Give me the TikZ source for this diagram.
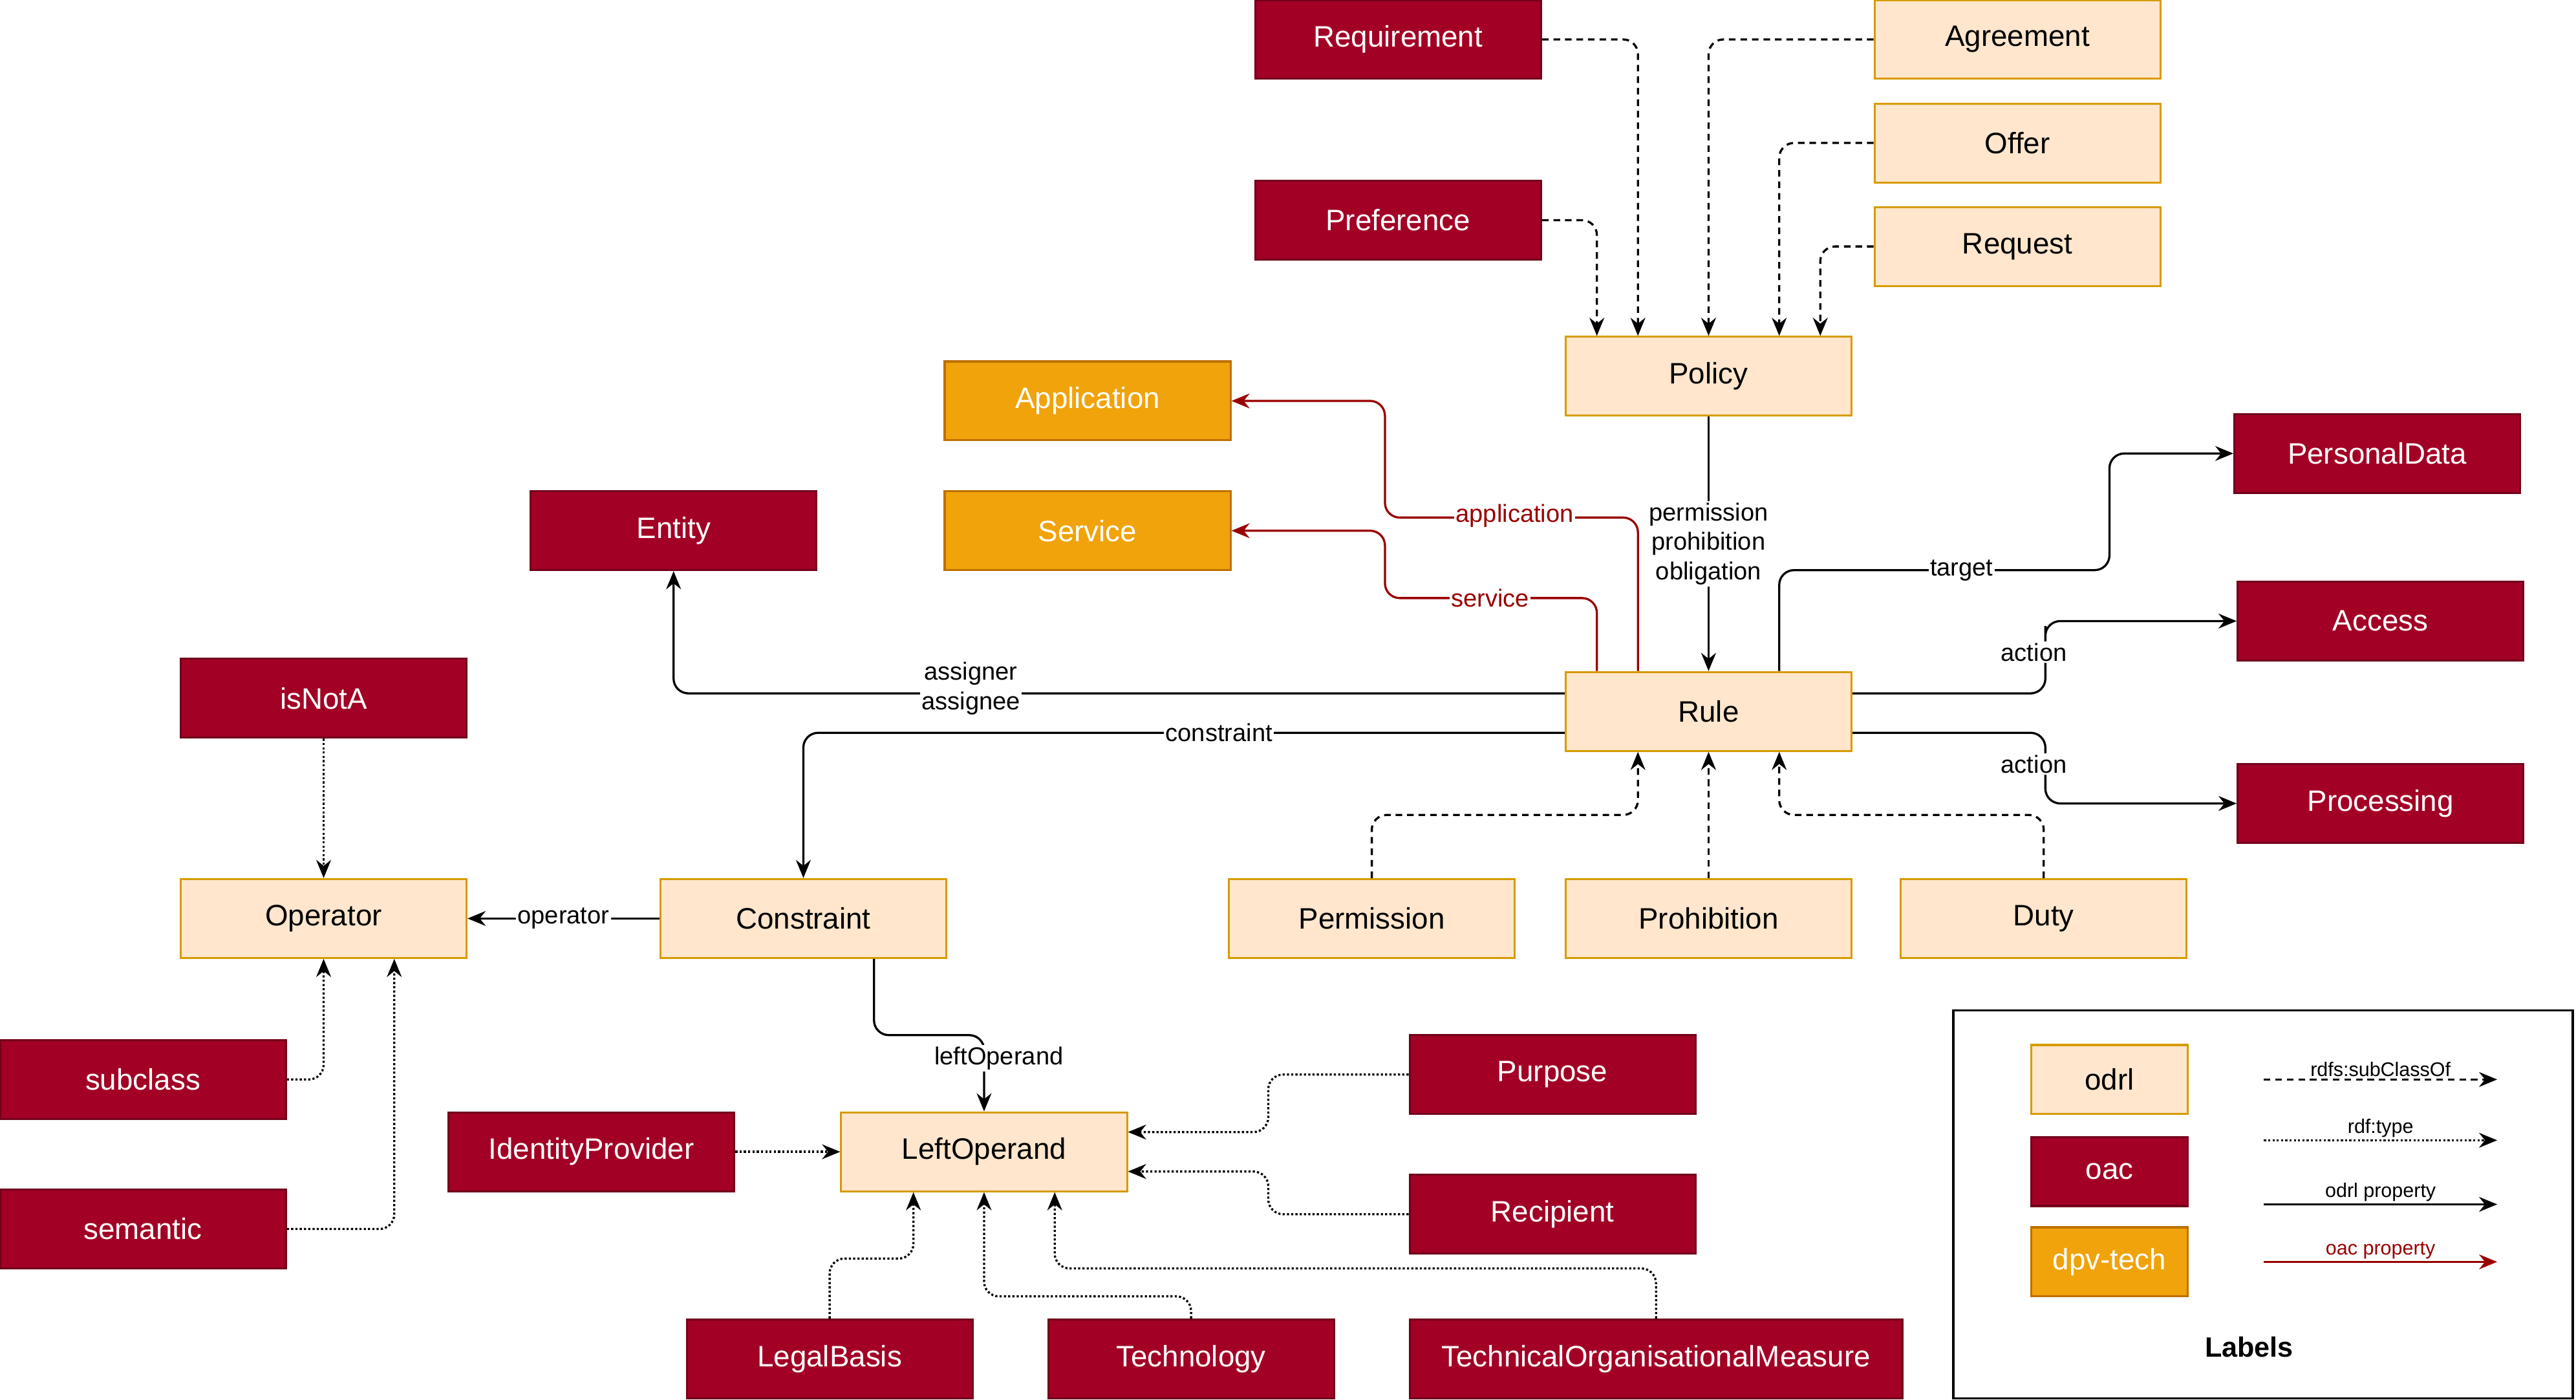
\documentclass[tikz,border=0pt]{standalone}
\usepackage{fontspec}
\setmainfont{Liberation Sans}
\usetikzlibrary{arrows.meta}
\definecolor{oacred}{HTML}{A20025}
\definecolor{odrlfill}{HTML}{FFE6CC}
\definecolor{odrlline}{HTML}{D79B00}
\definecolor{dpvfill}{HTML}{F0A30A}
\definecolor{dpvline}{HTML}{BD7000}
\definecolor{oacprop}{HTML}{990000}
\begin{document}
\begin{tikzpicture}[x=1pt,y=-1pt,
  box/.style={minimum width=174pt,minimum height=48pt,inner sep=0pt,font=\fontsize{18}{20}\selectfont,line width=1.2pt},
  odrl/.style={box,fill=odrlfill,draw=odrlline},
  oac/.style={box,fill=oacred,draw=oacred!70!black,text=white},
  dpv/.style={box,fill=dpvfill,draw=dpvline,text=white},
  e/.style={line width=1.3pt,rounded corners=9pt,-{Stealth[length=11pt,width=9pt]}},
  dsh/.style={e,dash pattern=on 4pt off 3pt},
  dot/.style={e,dash pattern=on 1.3pt off 1.3pt},
  op/.style={e,draw=oacprop},
  lbl/.style={fill=white,inner sep=1pt,font=\fontsize{15}{18}\selectfont},
  leg/.style={inner sep=1pt,font=\fontsize{12}{14}\selectfont}]
\useasboundingbox (0,0) rectangle (1568,852);
\node[oac] (req) at (851,24) {Requirement};
\node[odrl] (agr) at (1228,24) {Agreement};
\node[odrl] (off) at (1228,87) {Offer};
\node[odrl] (rqs) at (1228,150) {Request};
\node[oac] (pref) at (851,134) {Preference};
\node[odrl] (pol) at (1040,229) {Policy};
\node[dpv] (app) at (662,244) {Application};
\node[dpv] (srv) at (662,323) {Service};
\node[oac] (ent) at (410,323) {Entity};
\node[oac] (pd) at (1447,276) {PersonalData};
\node[oac] (acc) at (1449,378) {Access};
\node[oac] (proc) at (1449,489) {Processing};
\node[odrl] (rule) at (1040,433) {Rule};
\node[oac] (isnota) at (197,425) {isNotA};
\node[odrl] (oper) at (197,559) {Operator};
\node[odrl] (cons) at (489,559) {Constraint};
\node[odrl] (perm) at (835,559) {Permission};
\node[odrl] (proh) at (1040,559) {Prohibition};
\node[odrl] (duty) at (1244,559) {Duty};
\node[oac] (sub) at (87,657) {subclass};
\node[oac] (sem) at (87,748) {semantic};
\node[oac] (idp) at (360,701) {IdentityProvider};
\node[odrl] (lo) at (599,701) {LeftOperand};
\node[oac] (pur) at (945,654) {Purpose};
\node[oac] (rec) at (945,739) {Recipient};
\node[oac] (lb) at (505,827) {LegalBasis};
\node[oac] (tech) at (725,827) {Technology};
\node[oac,minimum width=300pt] (tom) at (1008,827) {TechnicalOrganisationalMeasure};
% policy subclasses
\draw[dsh] (req.east) -| ([xshift=-43pt]pol.north);
\draw[dsh] (pref.east) -| ([xshift=-68pt]pol.north);
\draw[dsh] (agr.west) -| (pol.north);
\draw[dsh] (off.west) -| ([xshift=43pt]pol.north);
\draw[dsh] (rqs.west) -| ([xshift=68pt]pol.north);
\draw[e] (pol) -- node[lbl,align=center]{permission\\prohibition\\obligation} (rule);
% oac properties
\draw[op] ([xshift=-43pt]rule.north) |- (843,315) |- (app.east);
\node[lbl,text=oacprop] at (922,314) {application};
\draw[op] ([xshift=-68pt]rule.north) |- (843,364) |- (srv.east);
\node[lbl,text=oacprop] at (907,364) {service};
% odrl properties
\draw[e] ([xshift=43pt]rule.north) |- (1284,347) |- (pd.west);
\node[lbl] at (1194,347) {target};
\draw[e] ([yshift=11pt]rule.east) -| (1245,390) |- (acc.west);
\node[lbl] at (1238,397) {action};
\draw[e] ([yshift=-13pt]rule.east) -| (1245,470) |- (proc.west);
\node[lbl] at (1238,465) {action};
\draw[e] ([yshift=11pt]rule.west) -| (ent.south);
\node[lbl,align=center] at (591,419) {assigner\\assignee};
\draw[e] ([yshift=-13pt]rule.west) -| (cons.north);
\node[lbl] at (742,446) {constraint};
% rule subclasses
\draw[dsh] (perm.north) |- (997,496) -- ([xshift=-43pt]rule.south);
\draw[dsh] (proh.north) -- (rule.south);
\draw[dsh] (duty.north) |- (1083,496) -- ([xshift=43pt]rule.south);
% operator
\draw[dot] (isnota) -- (oper);
\draw[e] (cons) -- node[lbl]{operator} (oper);
\draw[e] ([xshift=43pt]cons.south) |- (599,630) -- (lo.north);
\node[lbl] at (608,644) {leftOperand};
\draw[dot] (sub.east) -| (oper.south);
\draw[dot] (sem.east) -| ([xshift=43pt]oper.south);
\draw[dot] (idp) -- (lo);
\draw[dot] (pur.west) -| (772,689) -- ([yshift=12pt]lo.east);
\draw[dot] (rec.west) -| (772,713) -- ([yshift=-12pt]lo.east);
\draw[dot] (lb.north) |- (556,766) -- ([xshift=-43pt]lo.south);
\draw[dot] (tech.north) |- (599,789) -- (lo.south);
\draw[dot] (tom.north) |- (642,772) -- ([xshift=43pt]lo.south);
% legend
\node[draw,line width=1.3pt,minimum width=377pt,minimum height=236pt,inner sep=0pt] (legbox) at (1377.5,733) {};
\node[odrl,minimum width=95pt,minimum height=42pt] (l1) at (1284,657) {odrl};
\node[oac,minimum width=95pt,minimum height=42pt] (l2) at (1284,713) {oac};
\node[dpv,minimum width=95pt,minimum height=42pt] (l3) at (1284,768) {dpv-tech};
\coordinate (a1) at (1378,657); \coordinate (b1) at (1520,657);
\coordinate (a2) at (1378,694); \coordinate (b2) at (1520,694);
\coordinate (a3) at (1378,733); \coordinate (b3) at (1520,733);
\coordinate (a4) at (1378,768); \coordinate (b4) at (1520,768);
\draw[dsh] (a1) -- node[leg,above]{rdfs:subClassOf} (b1);
\draw[dot] (a2) -- node[leg,above]{rdf:type} (b2);
\draw[e] (a3) -- node[leg,above]{odrl property} (b3);
\draw[op] (a4) -- node[leg,above,text=oacprop]{oac property} (b4);
\node[font=\bfseries\fontsize{17}{20}\selectfont] (labels) at (1369,820) {Labels};
\end{tikzpicture}
\end{document}
